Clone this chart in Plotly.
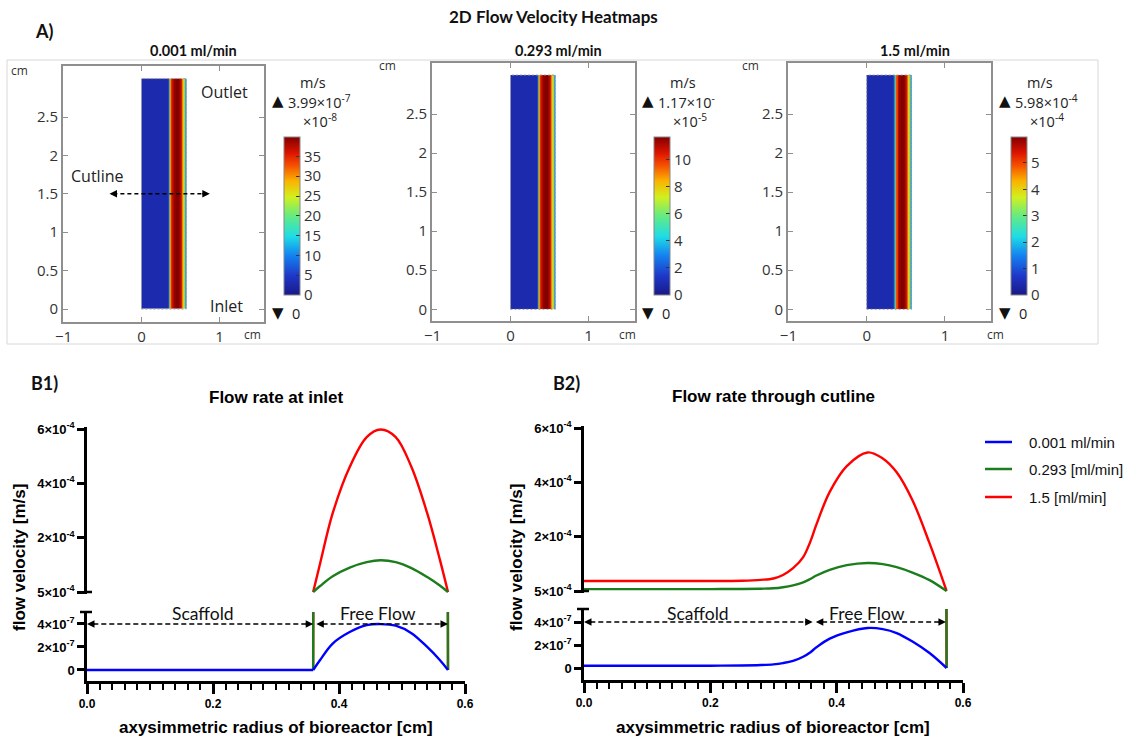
import plotly.graph_objects as go

W, H = 1129, 740


def fx(p):
    return p / W


def fy(p):
    return 1 - p / H


# ---------------- data ----------------
# A) heatmaps
hm_titles = ["0.001 ml/min", "0.293 ml/min", "1.5 ml/min"]
hm_vmax = [39.9, 11.7, 5.98]                      # colour-bar units
hm_max_labels = ["3.99×10<sup>-7</sup>", "1.17×10<sup>-</sup>", "5.98×10<sup>-4</sup>"]
hm_scale_labels = ["×10<sup>-8</sup>", "×10<sup>-5</sup>", "×10<sup>-4</sup>"]
hm_cb_ticks = [[0, 5, 10, 15, 20, 25, 30, 35], [0, 2, 4, 6, 8, 10], [0, 1, 2, 3, 4, 5]]
hm_r_edges = [0.0, 0.34, 0.355, 0.365, 0.375, 0.39, 0.41, 0.44, 0.49, 0.515, 0.53, 0.545, 0.558, 0.573]
hm_profile = [0.07, 0.2, 0.45, 0.65, 0.82, 0.92, 0.98, 1.0, 0.95, 0.85, 0.68, 0.45, 0.2]
hm_height = [0.0, 3.0]
hm_xticks = [-1, 0, 1]
hm_yticks = [0, 0.5, 1, 1.5, 2, 2.5]
hm_ytick_text = ["0", "0.5", "1", "1.5", "2", "2.5"]

# B1) flow rate at inlet
b1_scaffold_r = [0.0, 0.359]
b1_scaffold_blue = [0.0, 0.0]
b1_r = [0.359, 0.37, 0.39, 0.417, 0.444, 0.466, 0.49, 0.515, 0.54, 0.56, 0.573]
b1_red = [0, 1.05e-4, 2.9e-4, 4.6e-4, 5.7e-4, 5.98e-4, 5.7e-4, 4.6e-4, 2.9e-4, 1.2e-4, 0]
b1_green = [0, 0.22e-4, 0.58e-4, 0.9e-4, 1.1e-4, 1.17e-4, 1.1e-4, 0.88e-4, 0.55e-4, 0.24e-4, 0]
b1_blue = [0, 0.87e-7, 2.3e-7, 3.3e-7, 3.9e-7, 3.99e-7, 3.85e-7, 3.2e-7, 2.0e-7, 0.87e-7, 0]

# B2) flow rate through cutline
b2_r = [0.0, 0.05, 0.10, 0.15, 0.20, 0.25, 0.28, 0.30, 0.315, 0.331, 0.347, 0.358, 0.368,
        0.389, 0.416, 0.449, 0.473, 0.495, 0.520, 0.547, 0.574]
b2_red = [0.37e-4, 0.37e-4, 0.37e-4, 0.37e-4, 0.37e-4, 0.38e-4, 0.41e-4, 0.46e-4, 0.59e-4, 0.84e-4,
          1.25e-4, 1.8e-4, 2.45e-4, 3.65e-4, 4.6e-4, 5.1e-4, 4.88e-4, 4.37e-4, 3.34e-4, 1.76e-4, 0]
b2_green = [0.07e-4, 0.07e-4, 0.07e-4, 0.07e-4, 0.07e-4, 0.075e-4, 0.085e-4, 0.10e-4, 0.14e-4, 0.21e-4,
            0.32e-4, 0.44e-4, 0.57e-4, 0.78e-4, 0.95e-4, 1.03e-4, 0.99e-4, 0.88e-4, 0.68e-4, 0.40e-4, 0]
b2_blue = [0.2e-7, 0.2e-7, 0.2e-7, 0.2e-7, 0.2e-7, 0.22e-7, 0.26e-7, 0.32e-7, 0.43e-7, 0.62e-7,
           0.98e-7, 1.35e-7, 1.8e-7, 2.55e-7, 3.1e-7, 3.48e-7, 3.38e-7, 3.04e-7, 2.3e-7, 1.3e-7, 0]

series_names = ["0.001 ml/min", "0.293 [ml/min]", "1.5 [ml/min]"]
upper_tickvals = [0, 2e-4, 4e-4, 6e-4]
upper_ticktext = ["5×10<sup>-4</sup>", "2×10<sup>-4</sup>", "4×10<sup>-4</sup>", "6×10<sup>-4</sup>"]
lower_tickvals = [0, 2e-7, 4e-7]
lower_ticktext = ["0", "2×10<sup>-7</sup>", "4×10<sup>-7</sup>"]
b_xticks = [0.0, 0.2, 0.4, 0.6]

# ---------------- styles ----------------
BLUE, GREEN, RED = "#0000ff", "#1b7d1b", "#ff0000"
colors = [BLUE, GREEN, RED]
jet = [[0, "rgb(25,25,135)"], [0.12, "rgb(30,55,200)"], [0.25, "rgb(20,130,240)"],
       [0.37, "rgb(30,220,230)"], [0.5, "rgb(100,235,130)"], [0.62, "rgb(210,240,30)"],
       [0.72, "rgb(250,180,0)"], [0.82, "rgb(245,80,0)"], [0.9, "rgb(220,20,0)"], [1, "rgb(130,0,0)"]]

fig = go.Figure()
annotations = []
shapes = []


def ann(text, x, y, size, family="Open Sans", weight="normal", color="#222", xanchor="center",
        textangle=0):
    annotations.append(dict(text=text, x=fx(x), y=fy(y), xref="paper", yref="paper",
                            showarrow=False, xanchor=xanchor, yanchor="middle", textangle=textangle,
                            font=dict(family=family, size=size, color=color, weight=weight)))


def arrowhead(x, y, xref, yref, ax):
    annotations.append(dict(x=x, y=y, xref=xref, yref=yref, ax=ax, ay=0, text="", showarrow=True,
                            arrowhead=2, arrowsize=1, arrowwidth=1.5, arrowcolor="black", standoff=0))


# ---------------- A) heatmaps ----------------
hm_layout = [
    dict(px=(63, 264, 66, 322), xr=[-1.006, 1.571], yr=[-0.169, 3.164], cb=284),
    dict(px=(432, 635, 63, 321), xr=[-1.006, 1.596], yr=[-0.150, 3.154], cb=654),
    dict(px=(788, 991, 63, 321), xr=[-1.005, 1.588], yr=[-0.150, 3.154], cb=1011),
]
ax_style = dict(showline=True, linecolor="#8f8f8f", linewidth=1.8, mirror="ticks", ticks="inside",
                ticklen=5, tickcolor="#8f8f8f", showgrid=False, zeroline=False,
                tickfont=dict(family="Open Sans", size=15, color="#333"))
for i in range(3):
    L = hm_layout[i]
    l, r, t, b = L["px"]
    xa = "x" if i == 0 else f"x{i + 1}"
    ya = "y" if i == 0 else f"y{i + 1}"
    z = [[f * hm_vmax[i] for f in hm_profile]]
    fig.add_trace(go.Heatmap(
        x=hm_r_edges, y=hm_height, z=z, xaxis=xa, yaxis=ya, colorscale=jet, zmin=0, zmax=hm_vmax[i],
        showscale=True, hoverinfo="skip",
        colorbar=dict(x=fx(L["cb"]), y=fy(137), xanchor="left", yanchor="top", xpad=0, ypad=0,
                      lenmode="pixels", len=158, thickness=16, outlinecolor="#888", outlinewidth=1,
                      tickvals=hm_cb_ticks[i], ticks="inside", ticklen=4, tickcolor="#333",
                      tickfont=dict(family="Open Sans", size=15, color="#333"))))
    fig.update_layout(**{
        ("xaxis" if i == 0 else f"xaxis{i + 1}"): dict(domain=[fx(l), fx(r)], range=L["xr"], anchor=ya,
                                                       tickvals=hm_xticks, **ax_style),
        ("yaxis" if i == 0 else f"yaxis{i + 1}"): dict(domain=[fy(b), fy(t)], range=L["yr"], anchor=xa,
                                                       tickvals=hm_yticks, ticktext=hm_ytick_text, **ax_style),
    })
    shapes.append(dict(type="rect", xref=xa, yref=ya, x0=hm_r_edges[0], x1=hm_r_edges[-1],
                       y0=hm_height[0], y1=hm_height[1], line=dict(color="#9a9a9a", width=1, dash="2px,2px")))
    cbx = L["cb"]
    ann("m/s", cbx + 29, 83, 14.5)
    ann("▲", cbx - 6, 101, 15, family="DejaVu Sans", color="#111")
    ann(hm_max_labels[i], cbx + 2, 101, 14.5, xanchor="left")
    ann(hm_scale_labels[i], cbx + 36, 120, 14.5)
    ann("▼", cbx - 6, 313, 15, family="DejaVu Sans", color="#111")
    ann("0", cbx + 6, 313, 14.5, xanchor="left")

# heatmap panel titles
ann(hm_titles[0], 193, 51, 14.5, family="Lato", weight="bold", color="#111")
ann(hm_titles[1], 558, 51, 14.5, family="Lato", weight="bold", color="#111")
ann(hm_titles[2], 915, 51, 14.5, family="Lato", weight="bold", color="#111")
# cm labels
for (x, y) in [(19, 70), (253, 335), (387, 66), (627, 335), (750, 66), (995, 335)]:
    ann("cm", x, y, 12, color="#333")
ann("Outlet", 225, 92, 16)
ann("Inlet", 226, 306, 16)
ann("Cutline", 97, 176, 16)
shapes.append(dict(type="line", xref="x", yref="y", x0=-0.36, x1=0.83, y0=1.5, y1=1.5,
                   line=dict(color="black", width=1.4, dash="4px,3px")))
arrowhead(-0.41, 1.5, "x", "y", 9)
arrowhead(0.876, 1.5, "x", "y", -9)

# outer frame of the heatmap row
shapes.append(dict(type="rect", xref="paper", yref="paper", x0=fx(7), x1=fx(1098), y0=fy(344), y1=fy(60),
                   line=dict(color="#d8d8d8", width=1)))

ann("2D Flow Velocity Heatmaps", 553, 17, 17, family="Lato", weight="bold", color="#111")
ann("A)", 44, 31, 18, family="Lato", weight="bold", color="#111")

# ---------------- B panels ----------------
b_panels = [
    dict(xa="x4", ya_up="y4", ya_lo="y5", left=87, right=465, up=(427, 594), lo=(612, 681),
         up_range=[-0.0736e-4, 6.0736e-4], lo_range=[-0.957e-7, 5.04e-7]),
    dict(xa="x6", ya_up="y6", ya_lo="y7", left=584, right=963, up=(426, 593), lo=(609, 680),
         up_range=[-0.0736e-4, 6.0736e-4], lo_range=[-1.043e-7, 5.13e-7]),
]
tickfont_b = dict(family="Liberation Sans", size=13, color="black", weight="bold")
for P in b_panels:
    xk = "xaxis" + P["xa"][1:]
    fig.update_layout(**{
        xk: dict(domain=[fx(P["left"]), fx(P["right"])], range=[0, 0.6], anchor=P["ya_lo"],
                 showline=True, linewidth=3, linecolor="black", ticks="outside", ticklen=10,
                 tickwidth=2.5, tickcolor="black", tickvals=b_xticks, tickformat=".1f",
                 tickfont=dict(family="Liberation Sans", size=12, color="black", weight="bold"),
                 minor=dict(dtick=0.02, tick0=0, ticks="outside", ticklen=6, tickwidth=2,
                            tickcolor="black", showgrid=False),
                 showgrid=False, zeroline=False),
        "yaxis" + P["ya_up"][1:]: dict(domain=[fy(P["up"][1]), fy(P["up"][0])], range=P["up_range"],
                                       anchor=P["xa"], showline=True, linewidth=2.5, linecolor="black",
                                       ticks="outside", ticklen=7, tickwidth=2.5, tickcolor="black",
                                       tickvals=upper_tickvals, ticktext=upper_ticktext, tickfont=tickfont_b,
                                       showgrid=False, zeroline=False),
        "yaxis" + P["ya_lo"][1:]: dict(domain=[fy(P["lo"][1]), fy(P["lo"][0])], range=P["lo_range"],
                                       anchor=P["xa"], showline=True, linewidth=2.5, linecolor="black",
                                       ticks="outside", ticklen=7, tickwidth=2.5, tickcolor="black",
                                       tickvals=lower_tickvals, ticktext=lower_ticktext, tickfont=tickfont_b,
                                       showgrid=False, zeroline=False),
    })

lw = 2.4
# B1 traces
fig.add_trace(go.Scatter(x=b1_r, y=b1_red, xaxis="x4", yaxis="y4", mode="lines",
                         line=dict(color=RED, width=lw, shape="spline"), showlegend=False))
fig.add_trace(go.Scatter(x=b1_r, y=b1_green, xaxis="x4", yaxis="y4", mode="lines",
                         line=dict(color=GREEN, width=lw, shape="spline"), showlegend=False))
fig.add_trace(go.Scatter(x=b1_r, y=b1_red, xaxis="x4", yaxis="y5", mode="lines",
                         line=dict(color=RED, width=lw), showlegend=False))
fig.add_trace(go.Scatter(x=b1_r, y=b1_green, xaxis="x4", yaxis="y5", mode="lines",
                         line=dict(color=GREEN, width=lw), showlegend=False))
fig.add_trace(go.Scatter(x=b1_scaffold_r, y=b1_scaffold_blue, xaxis="x4", yaxis="y5",
                         mode="lines", line=dict(color=BLUE, width=lw), showlegend=False))
fig.add_trace(go.Scatter(x=b1_r, y=b1_blue, xaxis="x4", yaxis="y5",
                         mode="lines", line=dict(color=BLUE, width=lw, shape="spline"),
                         showlegend=False))
# B2 traces
fig.add_trace(go.Scatter(x=b2_r, y=b2_red, xaxis="x6", yaxis="y6", mode="lines",
                         line=dict(color=RED, width=lw, shape="spline"), showlegend=False))
fig.add_trace(go.Scatter(x=b2_r, y=b2_green, xaxis="x6", yaxis="y6", mode="lines",
                         line=dict(color=GREEN, width=lw, shape="spline"), showlegend=False))
fig.add_trace(go.Scatter(x=b2_r, y=b2_red, xaxis="x6", yaxis="y7", mode="lines",
                         line=dict(color=RED, width=lw), showlegend=False))
fig.add_trace(go.Scatter(x=b2_r, y=b2_green, xaxis="x6", yaxis="y7", mode="lines",
                         line=dict(color=GREEN, width=lw), showlegend=False))
fig.add_trace(go.Scatter(x=b2_r, y=b2_blue, xaxis="x6", yaxis="y7", mode="lines",
                         line=dict(color=BLUE, width=lw, shape="spline"), showlegend=False))

# region arrows in B panels
for xa, ya, segs in [("x4", "y5", [(0.0, 0.359), (0.364, 0.573)]),
                     ("x6", "y7", [(0.0, 0.362), (0.367, 0.573)])]:
    for (a, b) in segs:
        shapes.append(dict(type="line", xref=xa, yref=ya, x0=a + 0.01, x1=b - 0.01, y0=4e-7, y1=4e-7,
                           line=dict(color="black", width=1.5, dash="5px,3px")))
        arrowhead(a, 4e-7, xa, ya, 9)
        arrowhead(b, 4e-7, xa, ya, -9)

# axis-break stubs
for (x0, x1, y) in [(87, 92, 592), (80, 92, 612), (584, 589, 591), (577, 589, 609)]:
    shapes.append(dict(type="line", xref="paper", yref="paper", x0=fx(x0), x1=fx(x1), y0=fy(y), y1=fy(y),
                       line=dict(color="black", width=2.5)))

ann("Scaffold", 203, 613, 17.5, family="Lato", color="#111")
ann("Free Flow", 378, 613, 17.5, family="Lato", color="#111")
ann("Scaffold", 698, 613, 17.5, family="Lato", color="#111")
ann("Free Flow", 867, 613, 17.5, family="Lato", color="#111")

ann("B1)", 44, 383, 18, family="Lato", weight="bold", color="#111")
ann("B2)", 566, 383, 18, family="Lato", weight="bold", color="#111")
ann("Flow rate at inlet", 276, 398, 17, family="Liberation Sans", weight="bold", color="black")
ann("Flow rate through cutline", 773, 397, 17, family="Liberation Sans", weight="bold", color="black")
ann("flow velocity [m/s]", 19, 558, 17, family="Liberation Sans", weight="bold", color="black", textangle=-90)
ann("flow velocity [m/s]", 516, 558, 17, family="Liberation Sans", weight="bold", color="black", textangle=-90)
ann("axysimmetric radius of bioreactor [cm]", 276, 727, 17, family="Liberation Sans", weight="bold",
    color="black")
ann("axysimmetric radius of bioreactor [cm]", 773, 727, 17, family="Liberation Sans", weight="bold",
    color="black")

# legend (manual)
for k, y in enumerate([442, 469, 497]):
    shapes.append(dict(type="line", xref="paper", yref="paper", x0=fx(985), x1=fx(1012), y0=fy(y), y1=fy(y),
                       line=dict(color=colors[k], width=2.5)))
    ann(series_names[k], 1027, y, 15, family="Liberation Sans", color="#111", xanchor="left")

fig.update_layout(width=W, height=H, margin=dict(l=0, r=0, t=0, b=0, autoexpand=False),
                  paper_bgcolor="white", plot_bgcolor="rgba(0,0,0,0)", showlegend=False,
                  annotations=annotations, shapes=shapes)
fig.write_html("out.html")
